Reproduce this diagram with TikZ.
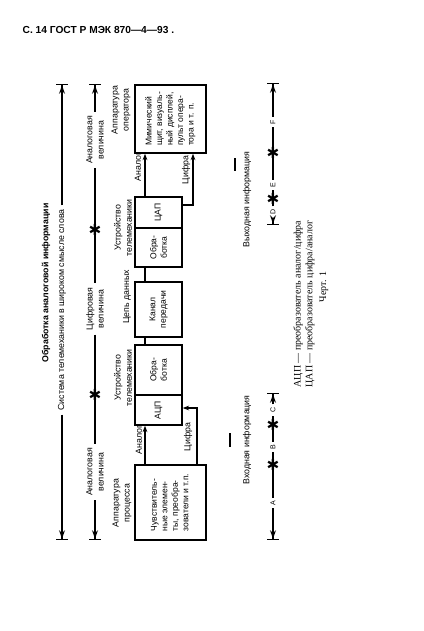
\documentclass[tikz,border=0pt]{standalone}
\usepackage{fontspec}
\setmainfont{Liberation Serif}
\setsansfont{Liberation Sans}
\newfontfamily\symfont{DejaVu Sans}
\usetikzlibrary{arrows.meta}
\begin{document}
\begin{tikzpicture}
	[x=0.03cm, y=-0.03cm, line width=1.2pt,
	every node/.style={font=\sffamily\fontsize{7.5}{9.5}\selectfont},
	vtext/.style={rotate=90, align=center, inner sep=3pt},
	block/.style={rotate=90, draw, line width=1.2pt, align=center, inner sep=0pt,
		font=\sffamily\fontsize{7.3}{9}\selectfont},
	letter/.style={rotate=90, inner sep=2pt, font=\sffamily\fontsize{6}{7}\selectfont},
	dimtip/.style={-{Stealth[length=7pt,width=5pt,sep=0pt]Bar[width=10pt]}},
	starmark/.style={inner sep=0pt, font=\symfont\fontsize{13}{13}\selectfont},
	flow/.style={-{Stealth[length=5.5pt,width=4pt]}}]
	\useasboundingbox (0,0) rectangle (424,631);
	% header and title
	\node (head) at (22,30) [anchor=west, inner sep=0pt, font=\sffamily\bfseries\fontsize{8.7}{10}\selectfont] {С. 14 ГОСТ Р МЭК 870—4—93 .};
	\node (title) at (46,283) [vtext, font=\sffamily\bfseries\fontsize{7.5}{9}\selectfont] {Обработка аналоговой информации};
	% system in the wide sense
	\coordinate (systop) at (62,84);
	\coordinate (sysbot) at (62,540);
	\node (sys) at (62,310) [vtext] {Система телемеханики в широком смысле слова};
	\draw [dimtip] (sys) to (systop);
	\draw [dimtip] (sys) to (sysbot);
	% kind of quantity
	\coordinate (qtop) at (95,84);
	\coordinate (qbot) at (95,540);
	\node (qan1) at (95,140) [vtext] {Аналоговая\\величина};
	\node (qdig) at (95,309) [vtext] {Цифровая\\величина};
	\node (qan2) at (95,472) [vtext] {Аналоговая\\величина};
	\draw [dimtip] (qan1) to (qtop);
	\draw (qan1) to (qdig);
	\draw (qdig) to (qan2);
	\draw [dimtip] (qan2) to (qbot);
	\node (qs1) at (95,230) [starmark] {✱};
	\node (qs2) at (95,395) [starmark] {✱};
	% headings over the blocks
	\node (hop) at (121,110) [vtext] {Аппаратура\\оператора};
	\node (hrtu2) at (123,228) [vtext] {Устройство\\телемеханики};
	\node (hlink) at (127,297) [vtext] {Цепь данных};
	\node (hrtu1) at (123,378) [vtext] {Устройство\\телемеханики};
	\node (hproc) at (122,503) [vtext] {Аппаратура\\процесса};
	% blocks
	\node (bmim) at (170.5,119) [block, minimum width=2.04cm, minimum height=2.13cm] {\begin{tabular}{@{}l@{}}Мимический\\щит, визуаль-\\ный дисплей,\\пульт опера-\\тора и т. п.\end{tabular}};
	\node (bdac) at (158.5,212.5) [block, minimum width=0.93cm, minimum height=1.41cm] {ЦАП};
	\node (bpro2) at (158.5,247.5) [block, minimum width=1.17cm, minimum height=1.41cm] {Обра-\\ботка};
	\node (bchan) at (158.5,309.5) [block, minimum width=1.65cm, minimum height=1.41cm] {Канал\\передачи};
	\node (bpro1) at (158.5,370) [block, minimum width=1.5cm, minimum height=1.41cm] {Обра-\\ботка};
	\node (badc) at (158.5,410) [block, minimum width=0.9cm, minimum height=1.41cm] {АЦП};
	\node (bsens) at (170.5,502.5) [block, minimum width=2.25cm, minimum height=2.13cm] {\begin{tabular}{@{}l@{}}Чувствитель-\\ные элемен-\\ты, преобра-\\зователи и т.п.\end{tabular}};
	% links between blocks
	\draw [flow] (145,0 |- bsens.east) to (145,0 |- badc.west);
	\draw [flow] (197,0 |- bsens.east) |- (badc.south |- 0,408);
	\draw (145,0 |- bpro1.east) to (145,0 |- bchan.west);
	\draw (145,0 |- bchan.east) to (145,0 |- bpro2.west);
	\draw [flow] (145,0 |- bdac.east) to (145,0 |- bmim.west);
	\draw [flow] (bdac.south |- 0,205) -| (193,0 |- bmim.west);
	\node (lan2) at (139,440) [vtext, inner sep=0pt] {Аналог};
	\node (ldig2) at (188,437) [vtext, inner sep=0pt] {Цифра};
	\node (lan1) at (138,167) [vtext, inner sep=0pt] {Аналог};
	\node (ldig1) at (186,170) [vtext, inner sep=0pt] {Цифра};
	% input and output information
	\node (inlab) at (247,440) [vtext] {Входная информация};
	\node (outlab) at (247,200) [vtext] {Выходная информация};
	\draw (230,433) -- (230,447);
	\draw (235,158) -- (235,171);
	\coordinate (inbot) at (273,540);
	\coordinate (intop) at (273,393);
	\node (la) at (273,503) [letter] {A};
	\node (lb) at (273,447) [letter] {B};
	\node (lc) at (273,410) [letter] {C};
	\draw [dimtip] (la) to (inbot);
	\draw (la) to (lb);
	\draw (lb) to (lc);
	\draw [dimtip] (lc) to (intop);
	\node (is1) at (273,465) [starmark] {✱};
	\node (is2) at (273,425) [starmark] {✱};
	\coordinate (outbot) at (273,225);
	\coordinate (outtop) at (273,83);
	\node (ld) at (273,212) [letter] {D};
	\node (le) at (273,185) [letter] {E};
	\node (lf) at (273,122) [letter] {F};
	\draw [dimtip] (ld) to (outbot);
	\draw (ld) to (le);
	\draw (le) to (lf);
	\draw [dimtip] (lf) to (outtop);
	\node (os1) at (273,199) [starmark] {✱};
	\node (os2) at (273,153) [starmark] {✱};
	% legend
	\node (key) at (304,388) [rotate=90, anchor=west, align=left, inner sep=0pt, font=\rmfamily\fontsize{8.5}{10}\selectfont] {АЦП — преобразователь аналог/цифра\\ЦАП — преобразователь цифра/аналог};
	\node (fig) at (324,287) [rotate=90, inner sep=0pt, font=\rmfamily\fontsize{8.5}{10}\selectfont] {Черт. 1};
\end{tikzpicture}
\end{document}
